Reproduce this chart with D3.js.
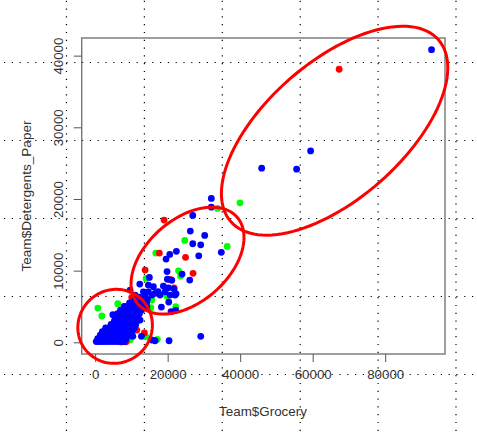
<!DOCTYPE html>
<html><head><meta charset="utf-8">
<script src="https://cdn.jsdelivr.net/npm/d3@7"></script>
<style>html,body{margin:0;padding:0;background:#fff}svg{display:block}</style>
</head><body><svg id="c" width="477" height="437"></svg>
<script>
const xTicks=[0,20000,40000,60000,80000];
const yTicks=[0,10000,20000,30000,40000];
const xLabel="Team$Grocery", yLabel="Team$Detergents_Paper";
const greenPts=[[740,4780],[1850,3670],[6250,5380],[5790,3430],[14050,8920],[16720,12450],[24710,14220],[36420,13380],[23000,9980],[23560,9240],[15620,5900],[19750,6450],[22230,4960],[15350,4820],[13970,780],[17160,420],[9640,320],[33750,18680],[39950,19460]];
const redPts=[[67298,38102],[19010,17050],[17710,12450],[24930,11860],[27000,9620],[13780,10080],[20660,8780],[21760,7610],[10110,6270],[13580,1300],[11490,1710],[7200,50],[8540,80]];
const bluePts=[[92780,40827],[59430,26710],[45930,24300],[55570,24160],[32040,20070],[32040,18860],[26920,17700],[26250,15520],[30220,14920],[26920,13750],[29120,13600],[22400,12700],[20580,12270],[19560,11610],[28570,12070],[34800,12550],[19840,9870],[23970,9520],[26090,8680],[19920,8800],[21130,8660],[14960,9060],[12310,8130],[14680,7990],[16060,7750],[18820,7850],[20190,7610],[19290,7050],[21760,7430],[22320,6770],[9640,7290],[11020,6590],[13310,7050],[14680,7050],[16530,6830],[17910,6590],[13780,6450],[20300,5620],[18270,4920],[20940,4270],[22230,4460],[12400,5440],[14240,4880],[12400,3110],[10390,840],[12760,840],[15620,320],[16530,220],[20390,220],[29120,840],[4880,3850],[17360,7060],[20660,6590],[22040,6590],[15700,6590],[12120,6310]];
const blobRows=[
 [100,[300,1000,1800,2600,3400,4300,5200,6100,7000,7900,8100]],
 [500,[700,1500,2400,3200,4100,5000,5900,6800,7700,8600]],
 [1000,[1400,2200,3100,3900,4700,5500,6300,7100,7900,8700,9300]],
 [1500,[2000,2900,3800,4700,5600,6400,7200,8000,8900,9700,10200]],
 [2000,[2900,3800,4700,5500,6300,7100,7900,8700,9500,10300,10800]],
 [2500,[4400,5200,6000,6800,7600,8400,9200,10000,10800,11200]],
 [3000,[5300,6100,6900,7700,8500,9300,10100,10900,11600]],
 [3500,[5900,6700,7500,8300,9100,9900,10700,11500]],
 [4000,[6200,7000,7800,8600,9400,10200,11000,11800,12200]],
 [4500,[7000,7800,8700,9500,10300,11100,12000,12800]],
 [5000,[8000,8800,9600,10400,11200,12000,12800,13600]],
 [5500,[9500,10300,11100,11900,12700,13500,14200]],
 [6000,[11000,11800,12600,13400,14400]]];
const ellipseCenters=[[5510,2230],[25480,11400],[66040,29530]];
const ellipseAxes=[[37.8,36.5,40],[65.9,41.3,41.4],[138,68.4,41.2]];

const svg=d3.select("#c");
const x=d3.scaleLinear().domain([-3708,96491]).range([81.7,445]);
const y=d3.scaleLinear().domain([-1630,42460]).range([354,38]);
const font="'Liberation Sans',Arial,sans-serif";

// dotted screen grid
const gv=d3.range(0,6).map(i=>66.5+i*77.9), gh=d3.range(0,5).map(i=>62.5+i*78);
const grid=svg.append("g").attr("stroke","#000").attr("stroke-width",1.2).attr("stroke-dasharray","1.2 6.6");
grid.selectAll(".v").data(gv).join("line").attr("x1",d=>d).attr("x2",d=>d).attr("y1",0.7).attr("y2",437);
grid.selectAll(".h").data(gh).join("line").attr("y1",d=>d).attr("y2",d=>d).attr("x1",4).attr("x2",477);

// box
svg.append("rect").attr("x",x.range()[0]).attr("y",y.range()[1])
 .attr("width",x.range()[1]-x.range()[0]).attr("height",y.range()[0]-y.range()[1])
 .attr("fill","none").attr("stroke","#777").attr("stroke-width",1.4);

// axes
const ax=svg.append("g").attr("transform",`translate(0,${y.range()[0]})`)
 .call(d3.axisBottom(x).tickValues(xTicks).tickSize(8).tickPadding(8).tickFormat(d3.format("d")));
const ay=svg.append("g").attr("transform",`translate(${x.range()[0]},0)`)
 .call(d3.axisLeft(y).tickValues(yTicks).tickSize(8).tickFormat(d3.format("d")));
[ax,ay].forEach(g=>{g.select(".domain").remove();
 g.selectAll(".tick line").attr("stroke","#555").attr("stroke-width",1);
 g.selectAll("text").attr("font-family",font).attr("font-size",13.3).attr("fill","#333");});
ay.selectAll("text").attr("transform","rotate(-90)").attr("x",0).attr("y",-19).attr("dy",0).attr("text-anchor","middle");

// points
const dots=(data,color)=>svg.append("g").selectAll("circle").data(data).join("circle")
 .attr("cx",d=>x(d[0])).attr("cy",d=>y(d[1])).attr("r",3.4).attr("fill",color);
dots(greenPts,"#00ff00");
dots(redPts,"#ff0000");
dots(bluePts,"#0000ff");
dots(blobRows.flatMap(([v,xs])=>xs.map(u=>[u,v])),"#0000ff");

// hand-drawn ellipses
const ell=d3.line().curve(d3.curveLinearClosed);
svg.append("g").selectAll("path").data(ellipseCenters.map((c,i)=>[c,ellipseAxes[i]])).join("path")
 .attr("fill","none").attr("stroke","#ff0000").attr("stroke-width",3)
 .attr("d",([c,a])=>{const cx=x(c[0]),cy=y(c[1]),t=a[2]*Math.PI/180;
   return ell(d3.range(0,120).map(i=>{const p=i/120*2*Math.PI,u=a[0]*Math.cos(p),v=a[1]*Math.sin(p);
     return [cx+u*Math.cos(t)+v*Math.sin(t),cy-u*Math.sin(t)+v*Math.cos(t)];}));});

// axis titles
svg.append("text").attr("x",263).attr("y",415.5).attr("text-anchor","middle")
 .attr("font-family",font).attr("font-size",13.4).attr("fill","#333").text(xLabel);
svg.append("text").attr("transform","translate(31,196) rotate(-90)").attr("text-anchor","middle")
 .attr("font-family",font).attr("font-size",13.6).attr("fill","#333").text(yLabel);
</script></body></html>
